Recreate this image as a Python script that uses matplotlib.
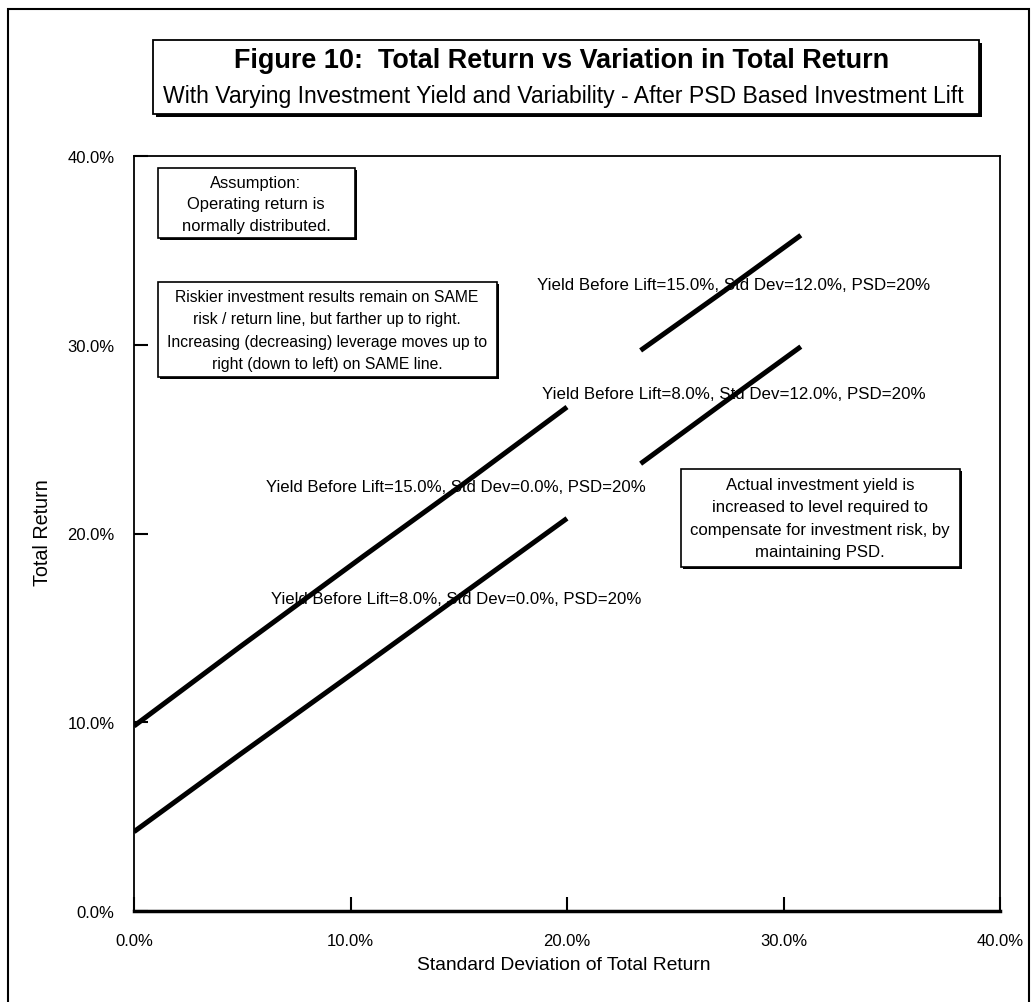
import matplotlib
matplotlib.use("Agg")
import matplotlib.pyplot as plt
from matplotlib import font_manager
from matplotlib.patches import Rectangle

# ---------------- data ----------------
sd_low = [0.0, 4.9, 10.6, 15.3, 20.0]
tr_yield15_sd0 = [9.8, 14.0, 18.8, 22.7, 26.7]
tr_yield8_sd0 = [4.2, 8.3, 13.0, 16.9, 20.8]
sd_high = [23.4, 27.2, 30.8]
tr_yield15_sd12 = [29.7, 32.8, 35.8]
tr_yield8_sd12 = [23.7, 26.9, 29.9]

series_labels = [
    "Yield Before Lift=15.0%, Std Dev=0.0%, PSD=20%",
    "Yield Before Lift=8.0%, Std Dev=0.0%, PSD=20%",
    "Yield Before Lift=15.0%, Std Dev=12.0%, PSD=20%",
    "Yield Before Lift=8.0%, Std Dev=12.0%, PSD=20%",
]
x_ticks = [0, 10, 20, 30, 40]
y_ticks = [0, 10, 20, 30, 40]
x_tick_labels = ["0.0%", "10.0%", "20.0%", "30.0%", "40.0%"]
y_tick_labels = ["0.0%", "10.0%", "20.0%", "30.0%", "40.0%"]

title = "Figure 10:  Total Return vs Variation in Total Return"
subtitle = "With Varying Investment Yield and Variability - After PSD Based Investment Lift"
note1 = "Assumption:\nOperating return is\nnormally distributed."
note2 = ("Riskier investment results remain on SAME\nrisk / return line, but farther up to right.\n"
         "Increasing (decreasing) leverage moves up to\nright (down to left) on SAME line.")
note3 = ("Actual investment yield is\nincreased to level required to\n"
         "compensate for investment risk, by\nmaintaining PSD.")


# ---------------- fonts ----------------
def pick(families):
    for f in families:
        try:
            font_manager.findfont(font_manager.FontProperties(family=f), fallback_to_default=False)
            return f
        except Exception:
            pass
    return "DejaVu Sans"

NARROW = pick(["Liberation Sans Narrow", "Liberation Sans"])
ARIAL = pick(["Liberation Sans", "DejaVu Sans"])

W, H = 1032, 1003
fig = plt.figure(figsize=(W / 100, H / 100), dpi=100)
fig.patch.set_facecolor("white")


def fx(px):
    return px / W


def fy(py):
    return 1 - py / H


def box(x0, y0, x1, y1, shadow=2, lw=1.2):
    if shadow:
        fig.add_artist(Rectangle((fx(x0 + shadow), fy(y1 + shadow)), fx(x1 - x0), (y1 - y0) / H,
                                 transform=fig.transFigure, facecolor="black", edgecolor="none", zorder=5))
    fig.add_artist(Rectangle((fx(x0), fy(y1)), fx(x1 - x0), (y1 - y0) / H,
                             transform=fig.transFigure, facecolor="white", edgecolor="black",
                             linewidth=lw, zorder=6))


# outer frame
fig.add_artist(Rectangle((fx(8), fy(1010)), fx(1021), 1000 / H, transform=fig.transFigure,
                         facecolor="none", edgecolor="black", linewidth=1.5, zorder=1))

# ---------------- axes ----------------
ax_l, ax_r, ax_t, ax_b = 134, 1000, 157, 912
ax = fig.add_axes([fx(ax_l), fy(ax_b), fx(ax_r - ax_l), (ax_b - ax_t) / H])
ax.set_xlim(0, 40)
ax.set_ylim(0, 40)
for s in ["left", "top", "right"]:
    ax.spines[s].set_linewidth(1.3)
ax.spines["bottom"].set_linewidth(2.5)
ax.set_xticks(x_ticks)
ax.set_xticklabels(x_tick_labels)
ax.set_yticks(y_ticks)
ax.set_yticklabels(y_tick_labels)
ax.tick_params(axis="x", direction="in", length=10, width=1.5, pad=16)
ax.tick_params(axis="y", direction="in", length=10, width=1.5, pad=14)
tick_fs = 11
for lab in ax.get_xticklabels() + ax.get_yticklabels():
    lab.set_family(NARROW)
    lab.set_fontsize(tick_fs)

lw = 3.6
ax.plot(sd_low, tr_yield15_sd0, color="black", lw=lw, zorder=3, solid_capstyle="butt")
ax.plot(sd_low, tr_yield8_sd0, color="black", lw=lw, zorder=3, solid_capstyle="butt")
ax.plot(sd_high, tr_yield15_sd12, color="black", lw=lw, zorder=3, solid_capstyle="butt")
ax.plot(sd_high, tr_yield8_sd12, color="black", lw=lw, zorder=3, solid_capstyle="butt")

xlab = fig.text(fx(564), fy(966), "Standard Deviation of Total Return", ha="center", va="center",
                family=NARROW, fontsize=12)
ylab = fig.text(fx(43), fy(533), "Total Return", ha="center", va="center", rotation=90,
                family=NARROW, fontsize=12)

# series labels (under the lines)
def data_xy(px, py):
    return (px - ax_l) / (ax_r - ax_l) * 40, (ax_b - py) / (ax_b - ax_t) * 40

label_pos = [(456, 488), (456, 600), (734, 285), (734, 395)]
label_w = [381, 369, 391, 383]
lab_artists = []
for txt, (px, py) in zip(series_labels, label_pos):
    dx, dy = data_xy(px, py)
    t = ax.text(dx, dy, txt, ha="center", va="center", family=ARIAL, fontsize=9, zorder=2)
    lab_artists.append(t)

# ---------------- title ----------------
box(153, 41, 979, 115, shadow=3, lw=1.3)
t_title = fig.text(fx(562), fy(61), title, ha="center", va="center", family=ARIAL,
                   fontweight="bold", fontsize=16, zorder=7)
t_sub = fig.text(fx(563), fy(97), subtitle, ha="center", va="center", family=NARROW,
                 fontsize=12, zorder=7)

# ---------------- notes ----------------
box(158, 169, 355, 239, shadow=2)
n1 = fig.text(fx(256), fy(205), note1, ha="center", va="center", family=NARROW, fontsize=10,
              linespacing=1.55, zorder=7)
box(158, 283, 497, 378, shadow=2)
n2 = fig.text(fx(327), fy(331), note2, ha="center", va="center", family=NARROW, fontsize=10,
              linespacing=1.6, zorder=7)
box(681, 470, 960, 568, shadow=2)
n3 = fig.text(fx(820), fy(519), note3, ha="center", va="center", family=NARROW, fontsize=10,
              linespacing=1.6, zorder=7)

# ---------------- fit text widths ----------------
fig.canvas.draw()
r = fig.canvas.get_renderer()


def fit(t, target, use_height=False):
    bb = t.get_window_extent(r)
    cur = bb.height if use_height else bb.width
    if cur > 0:
        t.set_fontsize(t.get_fontsize() * target / cur)


fit(t_title, 654)
fit(t_sub, 805)
fit(xlab, 296)
fit(ylab, 107, use_height=True)
for t, w in zip(lab_artists, label_w):
    fit(t, w)
# notes: fit by widest line
fit(n1, 137 * 1.08)
fit(n2, 316 * 1.02)
fit(n3, 255 * 1.02)
ref = ax.get_xticklabels()[-1]
bb = ref.get_window_extent(r)
fs = tick_fs * 47 / bb.width if bb.width > 0 else tick_fs
for lab in ax.get_xticklabels() + ax.get_yticklabels():
    lab.set_fontsize(fs)

fig.savefig("out.png", dpi=100, facecolor="white")
